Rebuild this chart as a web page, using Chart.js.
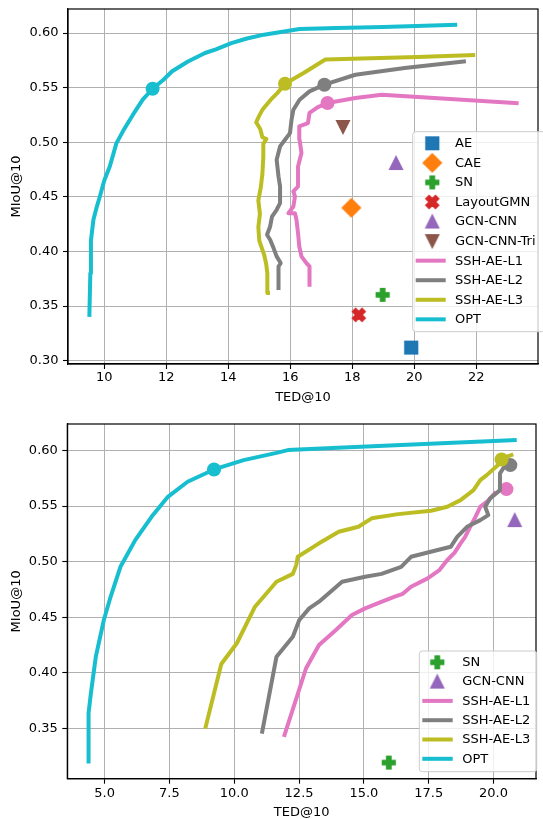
<!DOCTYPE html>
<html><head><meta charset="utf-8">
<script src="https://cdn.jsdelivr.net/npm/chart.js@4/dist/chart.umd.min.js"></script>
<style>
html,body{margin:0;padding:0;background:#fff;overflow:hidden;width:543px;height:819px;}
canvas{position:absolute;left:0;display:block;}
#c1{top:0;}
#c2{top:410px;}
</style></head><body>
<canvas id="c1" width="546" height="410" style="width:546px;height:410px"></canvas>
<canvas id="c2" width="544" height="412" style="width:544px;height:412px"></canvas>
<script>
// ---------- tick values ----------
const TOP_X_TICKS = [10, 12, 14, 16, 18, 20, 22];
const TOP_Y_TICKS = [0.30, 0.35, 0.40, 0.45, 0.50, 0.55, 0.60];
const BOT_X_TICKS = [5, 7.5, 10, 12.5, 15, 17.5, 20];
const BOT_Y_TICKS = [0.35, 0.40, 0.45, 0.50, 0.55, 0.60];

// ---------- top panel series ----------
const top_opt_ted  = [9.52, 9.55, 9.57, 9.65, 9.75, 9.86, 10.0, 10.18, 10.39, 10.6, 10.92, 11.24, 11.56, 11.9, 12.19, 12.7, 13.25, 13.6, 14.1, 14.6, 15.15, 15.7, 16.3, 17.5, 19.0, 21.32];
const top_opt_miou = [0.342, 0.38, 0.41, 0.429, 0.44, 0.4506, 0.465, 0.478, 0.499, 0.51, 0.525, 0.539, 0.549, 0.557, 0.565, 0.574, 0.5817, 0.585, 0.5908, 0.595, 0.5985, 0.601, 0.6037, 0.6045, 0.6055, 0.6076];
const top_opt_mark = [11.56, 0.549];

const top_l3_ted  = [15.28, 15.26, 15.22, 15.16, 15.0, 14.97, 15.02, 14.97, 15.05, 15.1, 15.13, 15.13, 15.23, 15.1, 15.03, 14.9, 15.0, 15.1, 15.37, 15.58, 15.83, 16.43, 17.13, 18.6, 20.1, 21.9];
const top_l3_miou = [0.362, 0.380, 0.389, 0.3967, 0.410, 0.4223, 0.4345, 0.4467, 0.4589, 0.4711, 0.4863, 0.4985, 0.503, 0.5046, 0.5122, 0.5183, 0.5244, 0.5297, 0.539, 0.545, 0.5536, 0.5634, 0.5757, 0.577, 0.578, 0.5799];
const top_l3_mark = [15.83, 0.5536];

const top_l2_ted  = [15.62, 15.62, 15.69, 15.56, 15.46, 15.35, 15.25, 15.35, 15.41, 15.56, 15.67, 15.67, 15.62, 15.56, 15.67, 15.83, 15.99, 16.04, 16.1, 16.3, 16.62, 17.1, 18.1, 19.69, 21.6];
const top_l2_miou = [0.3665, 0.3863, 0.3894, 0.3955, 0.4031, 0.4107, 0.4153, 0.4229, 0.432, 0.4382, 0.4443, 0.4595, 0.4687, 0.484, 0.4962, 0.5023, 0.5084, 0.5206, 0.5298, 0.5389, 0.5466, 0.5527, 0.5618, 0.568, 0.574];
const top_l2_mark = [17.1, 0.5527];

const top_l1_ted  = [16.62, 16.62, 16.52, 16.36, 16.29, 16.25, 16.2, 16.15, 15.94, 16.1, 16.15, 16.1, 16.25, 16.25, 16.36, 16.3, 16.29, 16.57, 16.62, 16.89, 17.2, 18.1, 18.95, 23.3];
const top_l1_miou = [0.3695, 0.3863, 0.3894, 0.3955, 0.4046, 0.4168, 0.429, 0.4351, 0.4351, 0.4412, 0.4504, 0.455, 0.4595, 0.4779, 0.4901, 0.5023, 0.5145, 0.5176, 0.5268, 0.5322, 0.5359, 0.5405, 0.5435, 0.5359];
const top_l1_mark = [17.2, 0.5359];

// baselines (TED, MIoU)
const top_ae        = [19.9, 0.312];
const top_cae       = [17.97, 0.44];
const top_sn        = [18.98, 0.3603];
const top_layoutgmn = [18.21, 0.342];
const top_gcncnn    = [19.41, 0.481];
const top_gcncnntri = [17.7, 0.514];

// ---------- bottom panel series ----------
const bot_opt_ted  = [4.38, 4.38, 4.47, 4.66, 4.97, 5.23, 5.61, 6.18, 6.81, 7.44, 8.2, 9.22, 10.36, 11.63, 12.07, 14.0, 16.0, 18.0, 20.82];
const bot_opt_miou = [0.32, 0.3635, 0.3815, 0.4144, 0.4474, 0.4683, 0.4953, 0.5193, 0.5403, 0.5583, 0.5718, 0.5829, 0.5913, 0.5978, 0.6003, 0.6025, 0.6045, 0.6065, 0.6093];
const bot_opt_mark = [9.22, 0.5829];

const bot_l3_ted  = [8.9, 9.5, 10.1, 10.8, 11.63, 12.26, 12.39, 12.45, 13.27, 14.03, 14.79, 15.3, 16.32, 17.59, 18.22, 18.73, 19.23, 19.49, 19.74, 20.24, 20.5, 20.69];
const bot_l3_miou = [0.3514, 0.4078, 0.4265, 0.4594, 0.4818, 0.4889, 0.4968, 0.5043, 0.5164, 0.5268, 0.5313, 0.5389, 0.5427, 0.5457, 0.5493, 0.5553, 0.5643, 0.5733, 0.5778, 0.5883, 0.5943, 0.5958];
const bot_l3_mark = [20.31, 0.5919];

const bot_l2_ted  = [11.08, 11.63, 12.26, 12.51, 12.89, 13.27, 14.16, 15.05, 15.68, 16.44, 16.82, 17.58, 18.35, 18.6, 18.98, 19.49, 19.8, 19.68, 19.87, 20.25, 20.25, 20.5];
const bot_l2_miou = [0.3469, 0.4144, 0.4324, 0.4474, 0.4579, 0.4639, 0.4818, 0.4863, 0.4889, 0.4953, 0.5043, 0.5088, 0.5133, 0.5223, 0.5313, 0.5373, 0.5418, 0.5493, 0.5568, 0.5643, 0.5793, 0.5883];
const bot_l2_mark = [20.65, 0.5868];

const bot_l1_ted  = [11.94, 12.77, 13.27, 13.9, 14.54, 15.05, 15.6, 16.19, 16.5, 16.82, 17.46, 17.9, 18.22, 18.5, 18.73, 18.9, 19.1, 19.3, 19.49, 19.8, 20.05];
const bot_l1_miou = [0.344, 0.404, 0.4249, 0.438, 0.4519, 0.4579, 0.463, 0.4684, 0.471, 0.4774, 0.4849, 0.492, 0.5014, 0.508, 0.5164, 0.522, 0.5313, 0.54, 0.5493, 0.555, 0.5613];
const bot_l1_mark = [20.5, 0.5652];

const bot_sn     = [15.96, 0.3191];
const bot_gcncnn = [20.82, 0.5373];

// ---------- styling ----------
const C = {blue:'#1f77b4', orange:'#ff7f0e', green:'#2ca02c', red:'#d62728', purple:'#9467bd',
           brown:'#8c564b', pink:'#e377c2', gray:'#7f7f7f', olive:'#bcbd22', cyan:'#17becf'};
Chart.defaults.font.family = "'DejaVu Sans', sans-serif";
Chart.defaults.font.size = 13;
Chart.defaults.color = '#000';

function makeMarker(shape, color, m) {
  const ew = 1.4, S = Math.ceil(m * 1.6 + ew * 2) + 2;
  const c = document.createElement('canvas'); c.width = S; c.height = S;
  const g = c.getContext('2d'); g.translate(S / 2, S / 2);
  g.fillStyle = color; g.strokeStyle = color; g.lineWidth = ew; g.lineJoin = 'miter';
  const h = m / 2; let pts;
  switch (shape) {
    case 's': pts = [[-h,-h],[h,-h],[h,h],[-h,h]]; break;
    case 'D': { const d = h * Math.SQRT2; pts = [[0,-d],[d,0],[0,d],[-d,0]]; break; }
    case '^': pts = [[0,-h],[h,h],[-h,h]]; break;
    case 'v': pts = [[0,h],[h,-h],[-h,-h]]; break;
    case 'P': pts = [[-1,-3],[1,-3],[1,-1],[3,-1],[3,1],[1,1],[1,3],[-1,3],[-1,1],[-3,1],[-3,-1],[-1,-1]].map(p => [p[0]*h/3, p[1]*h/3]); break;
    case 'X': pts = [[-1,-2],[0,-1],[1,-2],[2,-1],[1,0],[2,1],[1,2],[0,1],[-1,2],[-2,1],[-1,0],[-2,-1]].map(p => [p[0]*h/2, p[1]*h/2]); break;
  }
  g.beginPath(); g.moveTo(pts[0][0], pts[0][1]);
  for (let i = 1; i < pts.length; i++) g.lineTo(pts[i][0], pts[i][1]);
  g.closePath(); g.fill(); g.stroke();
  return c;
}
const MS = 12.8;
const MK = {
  ae: makeMarker('s', C.blue, MS), cae: makeMarker('D', C.orange, MS), sn: makeMarker('P', C.green, MS),
  gmn: makeMarker('X', C.red, MS), gcn: makeMarker('^', C.purple, MS), tri: makeMarker('v', C.brown, MS)
};

const xy = (xs, ys) => xs.map((x, i) => ({x, y: ys[i]}));
const pt = p => [{x: p[0], y: p[1]}];

function lineDS(label, xs, ys, color, order) {
  return {label, data: xy(xs, ys), showLine: true, borderColor: color, backgroundColor: color,
    borderWidth: 4, pointRadius: 0, pointHoverRadius: 0, borderJoinStyle: 'round', borderCapStyle: 'square',
    fill: false, order};
}
function dotDS(p, color, order) {
  return {label: '_dot', data: pt(p), showLine: false, pointRadius: 7, pointHoverRadius: 7,
    pointBackgroundColor: color, pointBorderWidth: 0, order};
}
function mkDS(label, p, img, order) {
  return {label, data: pt(p), showLine: false, pointStyle: img, pointRadius: 7, pointHoverRadius: 7, order};
}

function scales(xmin, xmax, ymin, ymax, xt, yt, xdec, yW, xH, xTitlePad, xTickPad) {
  return {
    x: {type: 'linear', min: xmin, max: xmax,
      afterBuildTicks: s => { s.ticks = xt.map(v => ({value: v})); },
      afterFit: s => { s.height = xH; s.paddingLeft = 0; s.paddingRight = 0; },
      ticks: {autoSkip: false, maxRotation: 0, minRotation: 0, padding: xTickPad, color: '#000',
        callback: v => Number(v).toFixed(xdec)},
      grid: {color: '#b0b0b0', lineWidth: 1, tickLength: 5, tickColor: '#000', tickWidth: 1.1},
      border: {display: true, color: '#000', width: 1.2},
      title: {display: true, text: 'TED@10', color: '#000', padding: {top: 0, bottom: xTitlePad}}
    },
    y: {type: 'linear', min: ymin, max: ymax,
      afterBuildTicks: s => { s.ticks = yt.map(v => ({value: v})); },
      afterFit: s => { s.width = yW; s.paddingTop = 0; s.paddingBottom = 0; },
      ticks: {autoSkip: false, padding: 4.5, color: '#000', callback: v => Number(v).toFixed(2)},
      grid: {color: '#b0b0b0', lineWidth: 1, tickLength: 5, tickColor: '#000', tickWidth: 1.1},
      border: {display: true, color: '#000', width: 1.2},
      title: {display: true, text: 'MIoU@10', color: '#000', padding: {top: 9, bottom: 0}}
    }
  };
}

const framePlugin = {
  id: 'frame',
  afterDatasetsDraw(chart) {
    const {ctx, chartArea: a} = chart;
    ctx.save(); ctx.strokeStyle = '#000'; ctx.lineWidth = 1.2;
    ctx.strokeRect(a.left, a.top, a.right - a.left, a.bottom - a.top);
    ctx.restore();
  }
};

function roundRect(ctx, x, y, w, h, r) {
  ctx.beginPath();
  ctx.moveTo(x + r, y); ctx.lineTo(x + w - r, y); ctx.quadraticCurveTo(x + w, y, x + w, y + r);
  ctx.lineTo(x + w, y + h - r); ctx.quadraticCurveTo(x + w, y + h, x + w - r, y + h);
  ctx.lineTo(x + r, y + h); ctx.quadraticCurveTo(x, y + h, x, y + h - r);
  ctx.lineTo(x, y + r); ctx.quadraticCurveTo(x, y, x + r, y); ctx.closePath();
}
const legendPlugin = {
  id: 'boxLegend',
  afterDraw(chart, args, o) {
    const ctx = chart.ctx;
    ctx.save();
    roundRect(ctx, o.left, o.top, o.right - o.left, o.bottom - o.top, 3);
    ctx.fillStyle = 'rgba(255,255,255,0.8)'; ctx.fill();
    ctx.strokeStyle = '#cccccc'; ctx.lineWidth = 1; ctx.stroke();
    o.items.forEach((it, i) => {
      const y = o.firstY + i * o.rowH;
      if (it.img) {
        ctx.drawImage(it.img, o.markX - it.img.width / 2, y - it.img.height / 2);
      } else {
        ctx.strokeStyle = it.color; ctx.lineWidth = 4; ctx.lineCap = 'butt';
        ctx.beginPath(); ctx.moveTo(o.lineX1, y); ctx.lineTo(o.lineX2, y); ctx.stroke();
      }
      ctx.fillStyle = '#000'; ctx.font = "13px 'DejaVu Sans', sans-serif";
      ctx.textBaseline = 'middle'; ctx.textAlign = 'left';
      ctx.fillText(it.label, o.textX, y + 0.5);
    });
    ctx.restore();
  }
};

// ---------- top chart ----------
new Chart(document.getElementById('c1'), {
  type: 'scatter',
  data: {datasets: [
    dotDS(top_opt_mark, C.cyan, 1), lineDS('OPT', top_opt_ted, top_opt_miou, C.cyan, 2),
    dotDS(top_l3_mark, C.olive, 3), lineDS('SSH-AE-L3', top_l3_ted, top_l3_miou, C.olive, 4),
    dotDS(top_l2_mark, C.gray, 5), lineDS('SSH-AE-L2', top_l2_ted, top_l2_miou, C.gray, 6),
    dotDS(top_l1_mark, C.pink, 7), lineDS('SSH-AE-L1', top_l1_ted, top_l1_miou, C.pink, 8),
    mkDS('GCN-CNN-Tri', top_gcncnntri, MK.tri, 9), mkDS('GCN-CNN', top_gcncnn, MK.gcn, 10),
    mkDS('LayoutGMN', top_layoutgmn, MK.gmn, 11), mkDS('SN', top_sn, MK.sn, 12),
    mkDS('CAE', top_cae, MK.cae, 13), mkDS('AE', top_ae, MK.ae, 14)
  ]},
  options: {
    responsive: false, animation: false, events: [],
    layout: {padding: {top: 9, left: 0, right: 0, bottom: 0}},
    scales: scales(8.83, 23.99, 0.297, 0.622, TOP_X_TICKS, TOP_Y_TICKS, 0, 68, 46, 5, 1),
    plugins: {
      legend: {display: false}, tooltip: {enabled: false},
      boxLegend: {left: 412.7, top: 131.7, right: 548, bottom: 331.7, firstY: 143.3, rowH: 19.56,
        markX: 432.3, lineX1: 415.7, lineX2: 445.7, textX: 455,
        items: [
          {label: 'AE', img: MK.ae}, {label: 'CAE', img: MK.cae}, {label: 'SN', img: MK.sn},
          {label: 'LayoutGMN', img: MK.gmn}, {label: 'GCN-CNN', img: MK.gcn}, {label: 'GCN-CNN-Tri', img: MK.tri},
          {label: 'SSH-AE-L1', color: C.pink}, {label: 'SSH-AE-L2', color: C.gray},
          {label: 'SSH-AE-L3', color: C.olive}, {label: 'OPT', color: C.cyan}
        ]}
    }
  },
  plugins: [framePlugin, legendPlugin]
});

// ---------- bottom chart ----------
new Chart(document.getElementById('c2'), {
  type: 'scatter',
  data: {datasets: [
    dotDS(bot_opt_mark, C.cyan, 1), lineDS('OPT', bot_opt_ted, bot_opt_miou, C.cyan, 2),
    dotDS(bot_l3_mark, C.olive, 3), lineDS('SSH-AE-L3', bot_l3_ted, bot_l3_miou, C.olive, 4),
    dotDS(bot_l2_mark, C.gray, 5), lineDS('SSH-AE-L2', bot_l2_ted, bot_l2_miou, C.gray, 6),
    dotDS(bot_l1_mark, C.pink, 7), lineDS('SSH-AE-L1', bot_l1_ted, bot_l1_miou, C.pink, 8),
    mkDS('GCN-CNN', bot_gcncnn, MK.gcn, 9), mkDS('SN', bot_sn, MK.sn, 10)
  ]},
  options: {
    responsive: false, animation: false, events: [],
    layout: {padding: {top: 14, left: 0, right: 0, bottom: 0}},
    scales: scales(3.56, 21.64, 0.3046, 0.6238, BOT_X_TICKS, BOT_Y_TICKS, 1, 67.3, 43.3, 1.7, 2),
    plugins: {
      legend: {display: false}, tooltip: {enabled: false},
      boxLegend: {left: 419.3, top: 241, right: 536.7, bottom: 361.7, firstY: 252.3, rowH: 19.3,
        markX: 437.3, lineX1: 422.3, lineX2: 452.7, textX: 462.3,
        items: [
          {label: 'SN', img: MK.sn}, {label: 'GCN-CNN', img: MK.gcn},
          {label: 'SSH-AE-L1', color: C.pink}, {label: 'SSH-AE-L2', color: C.gray},
          {label: 'SSH-AE-L3', color: C.olive}, {label: 'OPT', color: C.cyan}
        ]}
    }
  },
  plugins: [framePlugin, legendPlugin]
});
</script>
</body></html>
